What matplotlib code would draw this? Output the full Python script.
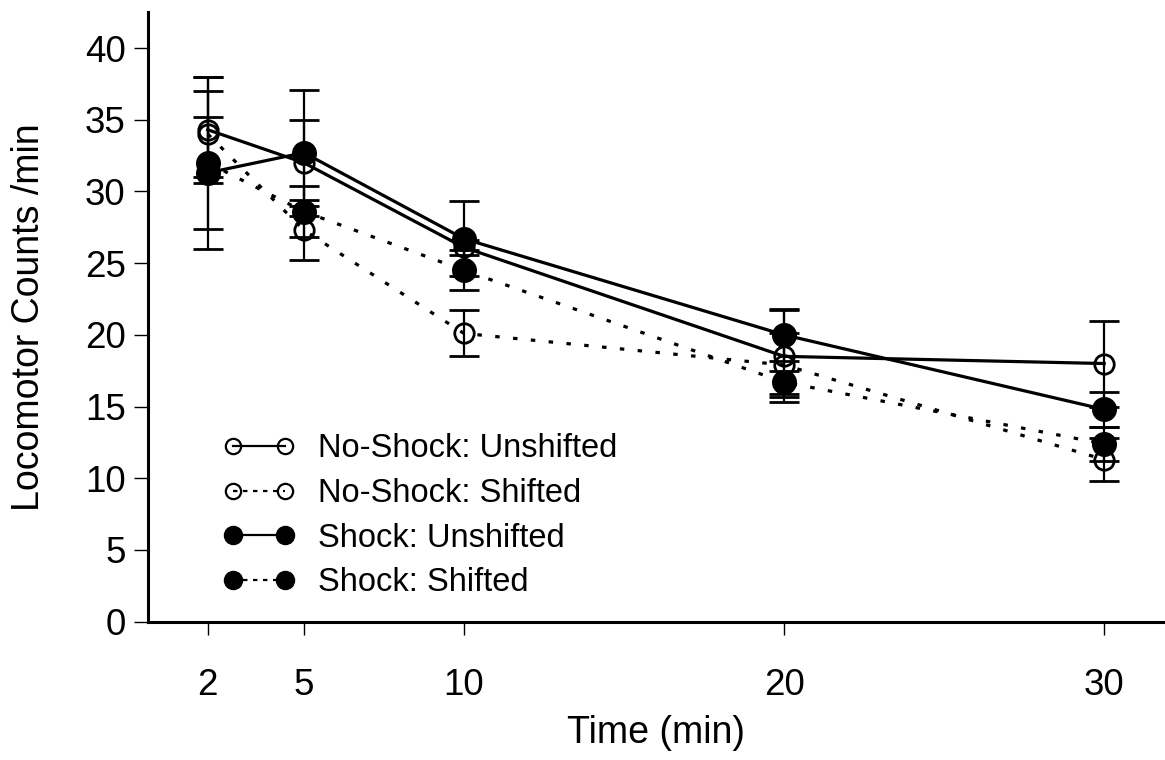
import numpy as np
import matplotlib
matplotlib.use("Agg")
import matplotlib.pyplot as plt
from matplotlib.lines import Line2D

plt.rcParams["font.family"] = ["Liberation Sans", "DejaVu Sans"]

# ── data ──────────────────────────────────────────────────────────────────────
time = [2, 5, 10, 20, 30]

ns_unshifted     = [34.3, 32.0, 26.1, 18.5, 18.0]
ns_unshifted_err = [3.7, 3.0, 0.5, 3.2, 3.0]
ns_shifted       = [34.0, 27.3, 20.1, 17.9, 11.3]
ns_shifted_err   = [3.0, 2.1, 1.6, 2.2, 1.5]
s_unshifted      = [31.3, 32.7, 26.7, 20.0, 14.8]
s_unshifted_err  = [3.9, 4.4, 2.6, 1.8, 1.2]
s_shifted        = [32.0, 28.6, 24.5, 16.7, 12.4]
s_shifted_err    = [6.0, 1.8, 1.4, 0.8, 1.2]

labels = ["No-Shock: Unshifted", "No-Shock: Shifted",
          "Shock: Unshifted", "Shock: Shifted"]
yticks = [0, 5, 10, 15, 20, 25, 30, 35, 40]

# ── figure ────────────────────────────────────────────────────────────────────
fig = plt.figure(figsize=(11.65, 7.6), dpi=100)
ax = fig.add_axes([0.127, 0.182, 0.873, 0.802])

dotted = (0, (1.4, 4.2))
series = [
    (ns_unshifted, ns_unshifted_err, "-",    "none",  14),
    (ns_shifted,   ns_shifted_err,   dotted, "none",  14),
    (s_unshifted,  s_unshifted_err,  "-",    "black", 16),
    (s_shifted,    s_shifted_err,    dotted, "black", 16),
]
for vals, errs, ls, face, ms in series:
    ax.errorbar(time, vals, yerr=errs, color="black", ecolor="black",
                elinewidth=1.6, capsize=11, capthick=1.6,
                linestyle=ls, linewidth=2.3, marker="o", markersize=ms,
                markerfacecolor=face, markeredgecolor="black",
                markeredgewidth=2.0)

ax.set_xlim(0.13, 31.9)
ax.set_ylim(0, 42.5)
ax.set_xticks(time)
ax.set_yticks(yticks)
ax.tick_params(axis="x", direction="out", length=9, width=1, pad=24,
               labelsize=26.5)
ax.tick_params(axis="y", direction="out", length=10, width=1, pad=6,
               labelsize=26.5)
ax.spines["top"].set_visible(False)
ax.spines["right"].set_visible(False)
ax.spines["left"].set_linewidth(2.2)
ax.spines["bottom"].set_linewidth(2.2)

ax.set_xlabel("Time (min)", fontsize=27, labelpad=9)
ax.set_ylabel("Locomotor Counts /min", fontsize=27, labelpad=27)

# ── legend ────────────────────────────────────────────────────────────────────
handles = [
    Line2D([], [], color="black", lw=1.6, ls="-", marker="o", ms=11,
           mfc="none", mec="black", mew=1.6),
    Line2D([], [], color="black", lw=1.6, ls=(0, (2, 2.5)), marker="o",
           ms=11, mfc="none", mec="black", mew=1.6),
    Line2D([], [], color="black", lw=1.6, ls="-", marker="o", ms=13,
           mfc="black", mec="black"),
    Line2D([], [], color="black", lw=1.6, ls=(0, (2, 2.5)), marker="o",
           ms=13, mfc="black", mec="black"),
]
ax.legend(handles, labels, loc="upper left", bbox_to_anchor=(0.074, 0.309),
          frameon=False, fontsize=23.5, numpoints=2, handlelength=2.2,
          handletextpad=0.7, labelspacing=0.42, borderpad=0, borderaxespad=0)

fig.savefig("out.png")
